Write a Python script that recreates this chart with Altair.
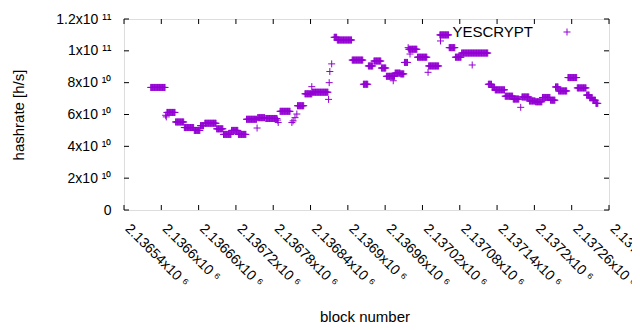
import altair as alt
import pandas as pd

series_name = "YESCRYPT"

# runs of consecutive blocks sharing the same hashrate (value in units of 1e10 h/s)
run_start = [2136583, 2136609, 2136623, 2136637, 2136653, 2136663, 2136670, 2136689, 2136700, 2136713,
             2136724, 2136737, 2136755, 2136768, 2136791, 2136819, 2136831, 2136843, 2136878, 2136883,
             2136907, 2136925, 2136933, 2136942, 2136954, 2136962, 2136976, 2136985, 2136991, 2136998,
             2137012, 2137030, 2137048, 2137063, 2137073, 2137083, 2137126, 2137132, 2137137, 2137153,
             2137166, 2137180, 2137192, 2137202, 2137213, 2137226, 2137234, 2137239, 2137254, 2137269,
             2137284, 2137289, 2137294, 2137299]
run_end = [2136606, 2136622, 2136636, 2136652, 2136662, 2136668, 2136688, 2136699, 2136712, 2136723,
           2136736, 2136753, 2136766, 2136786, 2136807, 2136829, 2136842, 2136868, 2136882, 2136906,
           2136924, 2136932, 2136940, 2136953, 2136961, 2136975, 2136984, 2136990, 2136996, 2137011,
           2137027, 2137046, 2137062, 2137072, 2137082, 2137125, 2137131, 2137136, 2137152, 2137165,
           2137175, 2137191, 2137201, 2137212, 2137225, 2137233, 2137238, 2137252, 2137268, 2137283,
           2137288, 2137293, 2137298, 2137302]
run_value = [7.70, 6.13, 5.53, 5.18, 5.00, 5.30, 5.45, 5.10, 4.75, 5.00,
             4.75, 5.70, 5.80, 5.75, 6.20, 6.55, 7.30, 7.40, 10.85, 10.68,
             9.42, 7.90, 9.05, 9.36, 8.92, 8.40, 8.60, 8.55, 9.27, 10.10,
             9.60, 9.05, 11.00, 10.20, 9.60, 9.86, 7.90, 7.70, 7.55, 7.15,
             6.97, 7.10, 6.85, 6.80, 7.07, 6.90, 7.73, 7.48, 8.32, 7.67,
             7.22, 7.05, 6.90, 6.70]

# single blocks off the runs
iso_block = [2136607, 2136608, 2136754, 2136787, 2136788, 2136810, 2136812, 2136815, 2136818, 2136842,
             2136869, 2136870, 2136871, 2136874, 2136973, 2136997, 2137000, 2137029, 2137049, 2137100,
             2137178]
iso_value = [5.95, 5.85, 5.15, 5.65, 5.50, 5.50, 5.60, 5.80, 6.03, 7.75,
             6.95, 8.00, 8.70, 9.18, 8.12, 10.20, 9.80, 8.65, 10.62, 9.11,
             6.45]

x_ticks = [2136540, 2136600, 2136660, 2136720, 2136780, 2136840, 2136900, 2136960,
           2137020, 2137080, 2137140, 2137200, 2137260, 2137320]
x_tick_labels = ["2.13654x10 ⁶", "2.1366x10 ⁶", "2.13666x10 ⁶", "2.13672x10 ⁶", "2.13678x10 ⁶",
                 "2.13684x10 ⁶", "2.1369x10 ⁶", "2.13696x10 ⁶", "2.13702x10 ⁶", "2.13708x10 ⁶",
                 "2.13714x10 ⁶", "2.1372x10 ⁶", "2.13726x10 ⁶", "2.13732x10 ⁶"]
y_ticks = [0, 20000000000, 40000000000, 60000000000, 80000000000, 100000000000, 120000000000]
y_tick_labels = ["0", "2x10 ¹⁰", "4x10 ¹⁰", "6x10 ¹⁰", "8x10 ¹⁰", "1x10 ¹¹", "1.2x10 ¹¹"]

blocks, values = [], []
for s, e, v in zip(run_start, run_end, run_value):
    for b in range(s, e + 1):
        blocks.append(b)
        values.append(v * 1e10)
for b, v in zip(iso_block, iso_value):
    blocks.append(b)
    values.append(v * 1e10)
df = pd.DataFrame({"block": blocks, "hashrate": values})


def label_expr(vals, labels):
    expr = "''"
    for v, l in reversed(list(zip(vals, labels))):
        expr = f"datum.value == {v} ? '{l}' : ({expr})"
    return expr


FONT = "Liberation Sans"
PURPLE = "#9400d3"
W, H = 485, 191
PLUS = "M-1,0H1M0,-1V1"

xscale = alt.Scale(domain=[2136540, 2137320], nice=False, zero=False)
yscale = alt.Scale(domain=[0, 120000000000], nice=False, zero=False)

x_axis = alt.Axis(
    values=x_ticks, labelExpr=label_expr(x_ticks, x_tick_labels), labelAngle=45,
    labelAlign="left", labelBaseline="alphabetic", labelPadding=19, ticks=False, domain=False,
    grid=False, labelFlush=False, labelOverlap=False, labelFont=FONT, labelFontSize=14,
    labelColor="black", title="block number", titleFont=FONT, titleFontSize=15,
    titleFontWeight="normal", titleColor="black", titleX=W / 2 - 2, titleY=106,
    titleBaseline="middle", titleAlign="center")
y_axis = alt.Axis(
    values=y_ticks, labelExpr=label_expr(y_ticks, y_tick_labels), labelPadding=13,
    ticks=False, domain=False, grid=False, labelFlush=False, labelOverlap=False,
    labelFont=FONT, labelFontSize=14, labelColor="black", title="hashrate [h/s]",
    titleFont=FONT, titleFontSize=15, titleFontWeight="normal", titleColor="black",
    titleX=-106, titleY=H / 2, titleAngle=-90, titleBaseline="middle", titleAlign="center")

points = alt.Chart(df).mark_point(
    shape=PLUS, size=49, filled=False, strokeWidth=1, color=PURPLE, opacity=1
).encode(
    x=alt.X("block:Q", scale=xscale, axis=x_axis),
    y=alt.Y("hashrate:Q", scale=yscale, axis=y_axis),
)

xt = pd.DataFrame({"block": x_ticks})
yt = pd.DataFrame({"hashrate": y_ticks})
tick_len = 5
xt_bottom = alt.Chart(xt).mark_rule(color="black", strokeWidth=1).encode(
    x=alt.X("block:Q", scale=xscale, axis=x_axis), y=alt.value(H), y2=alt.value(H - tick_len))
xt_top = alt.Chart(xt).mark_rule(color="black", strokeWidth=1).encode(
    x=alt.X("block:Q", scale=xscale, axis=x_axis), y=alt.value(0), y2=alt.value(tick_len))
yt_left = alt.Chart(yt).mark_rule(color="black", strokeWidth=1).encode(
    y=alt.Y("hashrate:Q", scale=yscale, axis=y_axis), x=alt.value(0), x2=alt.value(tick_len))
yt_right = alt.Chart(yt).mark_rule(color="black", strokeWidth=1).encode(
    y=alt.Y("hashrate:Q", scale=yscale, axis=y_axis), x=alt.value(W - tick_len), x2=alt.value(W))

leg = pd.DataFrame({"label": [series_name]})
leg_text = alt.Chart(leg).mark_text(
    align="right", baseline="middle", font=FONT, fontSize=15, color="black"
).encode(text="label:N", x=alt.value(409), y=alt.value(13))
leg_point = alt.Chart(leg).mark_point(
    shape=PLUS, size=49, filled=False, strokeWidth=1, color=PURPLE, opacity=1
).encode(x=alt.value(443), y=alt.value(13))

chart = alt.layer(points, xt_bottom, xt_top, yt_left, yt_right, leg_text, leg_point).properties(
    width=W, height=H,
    autosize=alt.AutoSizeParams(type="none"),
    padding={"left": 116, "top": 11, "right": 23, "bottom": 120},
).configure_view(stroke="black", strokeWidth=1).configure(background="white")

chart.save("out.html", embed_options={"renderer": "svg", "actions": False})
